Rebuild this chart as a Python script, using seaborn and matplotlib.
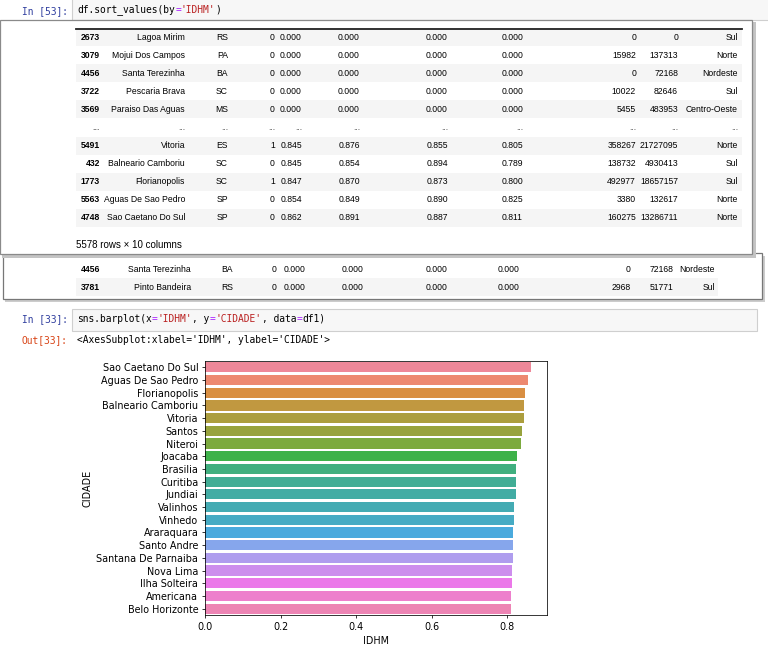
import pandas as pd
import seaborn as sns
import matplotlib.pyplot as plt
from matplotlib.patches import Rectangle

W, H = 768, 662

# chart data: top 20 cities by IDHM
cidades = ['Sao Caetano Do Sul', 'Aguas De Sao Pedro', 'Florianopolis', 'Balneario Camboriu',
           'Vitoria', 'Santos', 'Niteroi', 'Joacaba', 'Brasilia', 'Curitiba', 'Jundiai',
           'Valinhos', 'Vinhedo', 'Araraquara', 'Santo Andre', 'Santana De Parnaiba',
           'Nova Lima', 'Ilha Solteira', 'Americana', 'Belo Horizonte']
idhm = [0.862, 0.854, 0.847, 0.845, 0.845, 0.840, 0.837, 0.827, 0.824, 0.823, 0.822,
        0.819, 0.817, 0.815, 0.815, 0.814, 0.813, 0.812, 0.811, 0.810]

df1 = pd.DataFrame({'CIDADE': cidades, 'IDHM': idhm})

# table shown by df.sort_values(by='IDHM')
t_index = ['2673', '3079', '4456', '3722', '3569', '...', '5491', '432', '1773', '5563', '4748']
t_cidade = ['Lagoa Mirim', 'Mojui Dos Campos', 'Santa Terezinha', 'Pescaria Brava', 'Paraiso Das Aguas',
            '...', 'Vitoria', 'Balneario Camboriu', 'Florianopolis', 'Aguas De Sao Pedro', 'Sao Caetano Do Sul']
t_uf = ['RS', 'PA', 'BA', 'SC', 'MS', '...', 'ES', 'SC', 'SC', 'SP', 'SP']
t_cap = ['0', '0', '0', '0', '0', '...', '1', '0', '1', '0', '0']
t_idhm = ['0.000'] * 5 + ['...', '0.845', '0.845', '0.847', '0.854', '0.862']
t_renda = ['0.000'] * 5 + ['...', '0.876', '0.854', '0.870', '0.849', '0.891']
t_longev = ['0.000'] * 5 + ['...', '0.855', '0.894', '0.873', '0.890', '0.887']
t_educ = ['0.000'] * 5 + ['...', '0.805', '0.789', '0.800', '0.825', '0.811']
t_c8 = ['0', '15982', '0', '10022', '5455', '...', '358267', '138732', '492977', '3380', '160275']
t_c9 = ['0', '137313', '72168', '82646', '483953', '...', '21727095', '4930413', '18657157', '132617', '13286711']
t_regiao = ['Sul', 'Norte', 'Nordeste', 'Sul', 'Centro-Oeste', '...', 'Norte', 'Sul', 'Sul', 'Norte', 'Norte']

# second (pasted) table piece
t2_rows = [['4456', 'Santa Terezinha', 'BA', '0', '0.000', '0.000', '0.000', '0.000', '0', '72168', 'Nordeste'],
           ['3781', 'Pinto Bandeira', 'RS', '0', '0.000', '0.000', '0.000', '0.000', '2968', '51771', 'Sul']]

code1 = [("df.sort_values(by", 'k'), ("=", '#AA22FF'), ("'IDHM'", '#BA2121'), (")", 'k')]
code2 = [("sns.barplot(x", 'k'), ("=", '#AA22FF'), ("'IDHM'", '#BA2121'), (", y", 'k'),
         ("=", '#AA22FF'), ("'CIDADE'", '#BA2121'), (", data", 'k'), ("=", '#AA22FF'), ("df1)", 'k')]
out_text = "<AxesSubplot:xlabel='IDHM', ylabel='CIDADE'>"

fig = plt.figure(figsize=(W / 100, H / 100), dpi=100)
fig.patch.set_facecolor('white')

CODE_FS = 6.9
CW = 0.6021 * CODE_FS * 100 / 72
TAB_FS = 6.2


def fx(x):
    return x / W


def fy(y):
    return 1 - y / H


def box(x0, y0, x1, y1, **kw):
    fig.add_artist(Rectangle((fx(x0), fy(y1)), (x1 - x0) / W, (y1 - y0) / H,
                             transform=fig.transFigure, **kw))


def txt(x, y, s, **kw):
    fig.text(fx(x), fy(y), s, va='center', **kw)


def code_line(x, y, parts):
    col = 0
    for s, c in parts:
        txt(x + col * CW, y, s, color=c, family='DejaVu Sans Mono', fontsize=CODE_FS, zorder=5)
        col += len(s)


# first input cell
box(72, -2, 770, 20, facecolor='#f7f7f7', edgecolor='#cfcfcf', lw=0.8, zorder=1)
txt(22, 11, 'In [53]:', color='#303F9F', family='DejaVu Sans Mono', fontsize=CODE_FS)
code_line(77, 10, code1)

# lower pasted panel (drawn first, upper one overlaps it)
box(5, 256, 765, 302, facecolor='#cccccc', edgecolor='none', zorder=1)
box(3, 253, 762, 299, facecolor='white', edgecolor='#777777', lw=0.9, zorder=2)
right2 = [100, 191, 233, 276, 305, 364, 448, 520, 631, 673, 715]
for i, row in enumerate(t2_rows):
    yc = 269 + 18 * i
    if i == 1:
        box(76, yc - 9, 718, yc + 9, facecolor='#f5f5f5', edgecolor='none', zorder=3)
    for j, val in enumerate(row):
        txt(right2[j], yc, val, ha='right', family='Liberation Sans', fontsize=TAB_FS,
            fontweight='bold' if j == 0 else 'normal', zorder=5)

# upper panel with the sorted dataframe
box(2, 22, 756, 258, facecolor='#c4c4c4', edgecolor='none', zorder=3)
box(0, 20, 752, 254, facecolor='white', edgecolor='#8a8a8a', lw=0.9, zorder=4)
fig.add_artist(plt.Line2D([fx(76), fx(742)], [fy(29), fy(29)], transform=fig.transFigure,
                          color='#222222', lw=1.3, zorder=5))
cols = [t_index, t_cidade, t_uf, t_cap, t_idhm, t_renda, t_longev, t_educ, t_c8, t_c9, t_regiao]
right1 = [100, 185, 228, 275, 302, 360, 448, 523, 636, 678, 738]
for i in range(len(t_index)):
    yc = 37 + 18.1 * i
    if i % 2 == 0:
        box(76, yc - 9, 742, yc + 9, facecolor='#f5f5f5', edgecolor='none', zorder=4.5)
    for j, col in enumerate(cols):
        txt(right1[j], yc, col[i], ha='right', family='Liberation Sans', fontsize=TAB_FS,
            fontweight='bold' if j == 0 else 'normal',
            color='#666666' if col[i] == '...' else 'k', zorder=6)
txt(76, 245, '5578 rows \u00d7 10 columns', ha='left', family='Liberation Sans', fontsize=7, zorder=6)

# second input / output cell
box(72, 309, 757, 331, facecolor='#f7f7f7', edgecolor='#cfcfcf', lw=0.8, zorder=1)
txt(22, 319, 'In [33]:', color='#303F9F', family='DejaVu Sans Mono', fontsize=CODE_FS)
code_line(77, 319, code2)
txt(22, 340, 'Out[33]:', color='#D84315', family='DejaVu Sans Mono', fontsize=CODE_FS)
txt(77, 340, out_text, color='k', family='DejaVu Sans Mono', fontsize=CODE_FS)

# the bar chart
ax = fig.add_axes([fx(205), fy(615), 342 / W, 254 / H])
sns.barplot(x='IDHM', y='CIDADE', data=df1, hue='CIDADE', saturation=.85,
            palette=sns.husl_palette(len(cidades), l=.68), legend=False, ax=ax)
ax.tick_params(labelsize=6.9, length=2.4, width=0.55, pad=2.4)
for s in ax.spines.values():
    s.set_linewidth(0.55)
ax.set_xlabel('IDHM', fontsize=6.9, labelpad=2.8)
ax.set_ylabel('CIDADE', fontsize=6.9, labelpad=2.8)

fig.savefig('out.png', dpi=100)
